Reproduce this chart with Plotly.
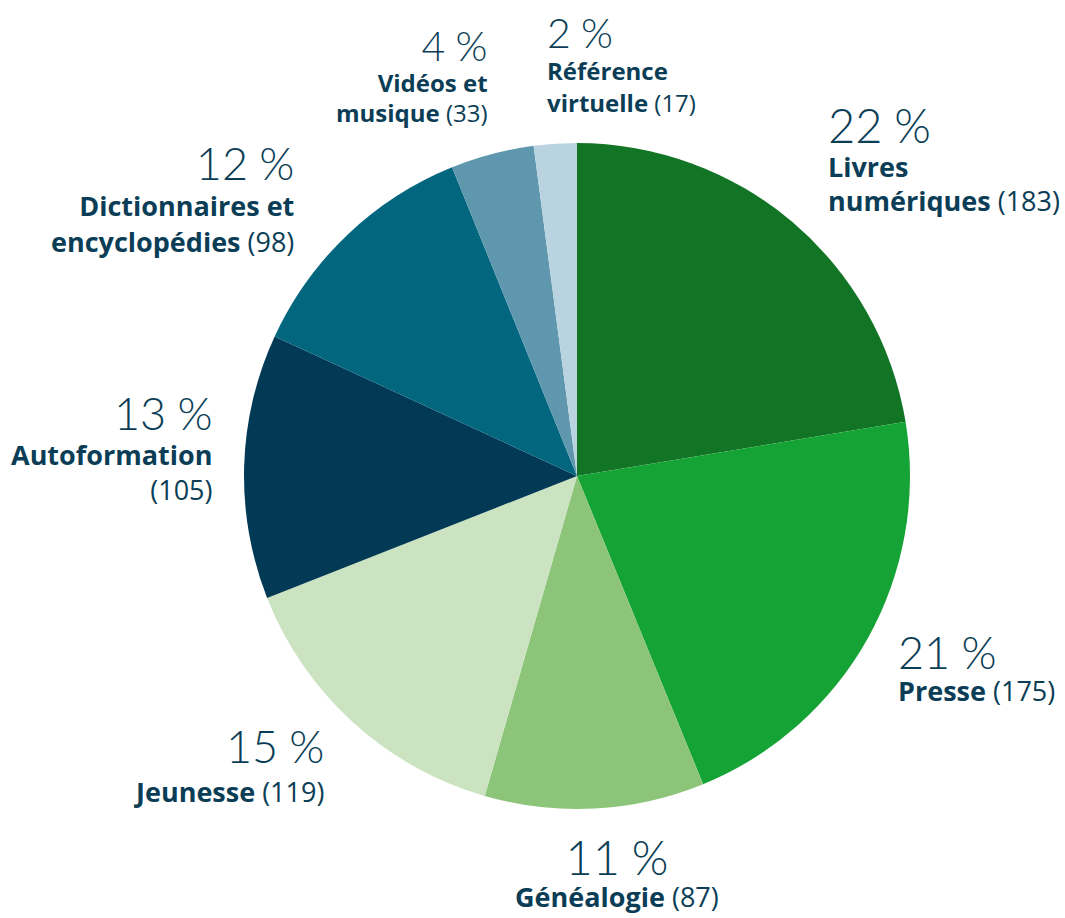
import plotly.graph_objects as go

categories = ["Livres numériques", "Presse", "Généalogie", "Jeunesse", "Autoformation",
              "Dictionnaires et encyclopédies", "Vidéos et musique", "Référence virtuelle"]
values = [183, 175, 87, 119, 105, 98, 33, 17]
percent_labels = ["22\u202f%", "21\u202f%", "11\u202f%", "15\u202f%", "13\u202f%", "12\u202f%", "4\u202f%", "2\u202f%"]
label_lines = [
    ["<b>Livres</b>", "<b>numériques</b> (183)"],
    ["<b>Presse</b> (175)"],
    ["<b>Généalogie</b> (87)"],
    ["<b>Jeunesse</b> (119)"],
    ["<b>Autoformation</b>", "(105)"],
    ["<b>Dictionnaires et</b>", "<b>encyclopédies</b> (98)"],
    ["<b>Vidéos et</b>", "<b>musique</b> (33)"],
    ["<b>Référence</b>", "<b>virtuelle</b> (17)"],
]
colors = ["#127526", "#16a336", "#8cc47a", "#cce3c2", "#023a55", "#02667e", "#5f97ae", "#bad3e0"]

W, H = 1065, 918
TXT = "#0b3e56"

# (x px, percent baseline px, anchor, pct size, label size, line spacing px)
label_pos = [
    (828, 143, "left", 47, 27, 34),
    (898, 669, "left", 45, 27, 32),
    (617, 875, "center", 47, 27, 32),
    (324, 763, "right", 45, 27, 39),
    (213, 430, "right", 45, 27, 35),
    (294, 180, "right", 45, 27, 36),
    (488, 61, "right", 41, 24, 30.5),
    (547, 48, "left", 41, 24, 32),
]

LATO_ASC = 0.987
PAD = 2


def px_x(x, anchor):
    if anchor == "left":
        x -= PAD
    elif anchor == "right":
        x += PAD
    return x / W


def px_top(baseline, size, asc):
    return 1 - (baseline - PAD - asc * size) / H


cx, cy, r = 577, 476, 333
fig = go.Figure(go.Pie(
    labels=categories, values=values, sort=False, direction="clockwise", rotation=0,
    marker=dict(colors=colors, line=dict(width=0)),
    textinfo="none", hoverinfo="label+value+percent", showlegend=False,
    domain=dict(x=[(cx - r) / W, (cx + r) / W], y=[1 - (cy + r) / H, 1 - (cy - r) / H]),
))

for pct, lines, (x, pb, al, ps, ls, gap) in zip(percent_labels, label_lines, label_pos):
    parts = [f"<span style='font-family:Lato;font-weight:300;font-size:{ps}px'>{pct}</span>"]
    parts += [f"<span style='font-family:Open Sans;font-size:{ls}px'>{ln}</span>" for ln in lines]
    fig.add_annotation(x=px_x(x, al), y=px_top(pb, ps, LATO_ASC), xref="paper", yref="paper",
                       text="<br>".join(parts), showarrow=False, xanchor=al, yanchor="top",
                       align=al, font=dict(family="Open Sans", size=gap / 1.3, color=TXT))

fig.update_layout(width=W, height=H, margin=dict(l=0, r=0, t=0, b=0),
                  paper_bgcolor="white", plot_bgcolor="white")
fig.write_html("out.html", config={"displayModeBar": False},
               post_script="document.body.style.margin='0px';")
